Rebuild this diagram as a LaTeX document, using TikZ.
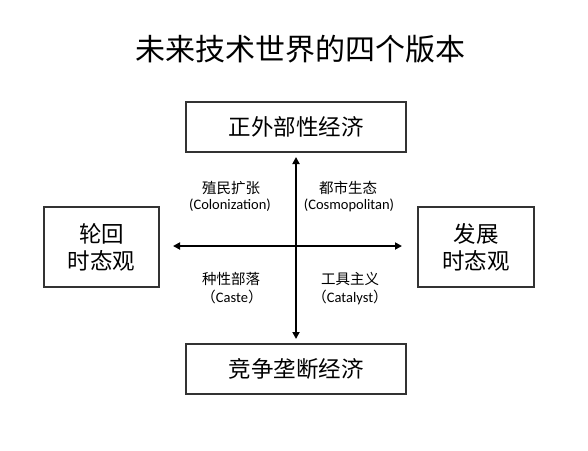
\documentclass[tikz,border=0pt]{standalone}
\usepackage{fontspec}
\setmainfont{Noto Sans CJK SC}
\newfontfamily\cjk{Noto Sans CJK SC}
\newfontfamily\lat{Carlito}
\usetikzlibrary{arrows.meta}
\begin{document}
\begin{tikzpicture}[x=1pt,y=-1pt,
  box/.style={draw=black!80,line width=1.3pt,inner sep=0pt,align=center,font=\fontsize{22.5}{27}\selectfont},
  axis/.style={line width=1.8pt,{Triangle[length=7pt,width=7pt]}-{Triangle[length=7pt,width=7pt]}},
  qcn/.style={font=\cjk\fontsize{14.5}{16}\selectfont},
  qen/.style={font=\lat\fontsize{14.5}{16}\selectfont}]
\useasboundingbox[fill=white] (0,0) rectangle (588,450);
\node[font=\fontsize{30}{34}\selectfont] (title) at (300,49) {未来技术世界的四个版本};
\node[box,minimum width=220pt,minimum height=50pt] (top) at (296,127) {正外部性经济};
\node[box,minimum width=220pt,minimum height=50pt] (bot) at (296,369) {竞争垄断经济};
\node[box,minimum width=115pt,minimum height=80pt] (left) at (101.5,247) {轮回\\时态观};
\node[box,minimum width=116pt,minimum height=80pt] (right) at (476,247) {发展\\时态观};
\coordinate (vt) at (296,157);
\coordinate (vb) at (296,339);
\coordinate (hl) at (173,246);
\coordinate (hr) at (402,246);
\draw[axis] (vb) -- (vt);
\draw[axis] (hl) -- (hr);
\node[qcn] (q1c) at (231,188) {殖民扩张};
\node[qen] (q1e) at (230,205) {(Colonization)};
\node[qcn] (q2c) at (348,188) {都市生态};
\node[qen] (q2e) at (349,205) {(Cosmopolitan)};
\node[qcn] (q3c) at (231,279) {种性部落};
\node[qen] (q3e) at (232,297) {{\cjk （}Caste{\cjk ）}};
\node[qcn] (q4c) at (350,279) {工具主义};
\node[qen] (q4e) at (350,297) {{\cjk （}Catalyst{\cjk ）}};
\end{tikzpicture}
\end{document}
